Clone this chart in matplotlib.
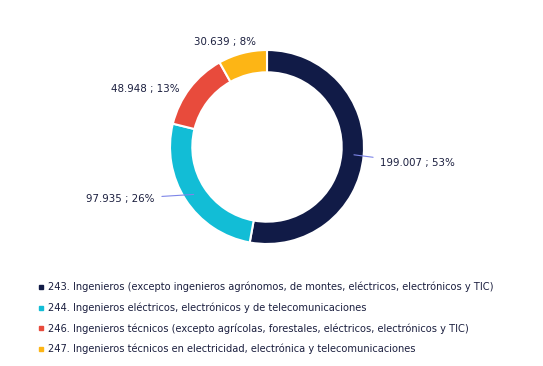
import numpy as np
import matplotlib.pyplot as plt
from matplotlib.lines import Line2D

categories = [
    "243. Ingenieros (excepto ingenieros agrónomos, de montes, eléctricos, electrónicos y TIC)",
    "244. Ingenieros eléctricos, electrónicos y de telecomunicaciones",
    "246. Ingenieros técnicos (excepto agrícolas, forestales, eléctricos, electrónicos y TIC)",
    "247. Ingenieros técnicos en electricidad, electrónica y telecomunicaciones",
]
values = [199007, 97935, 48948, 30639]
value_labels = ["199.007 ; 53%", "97.935 ; 26%", "48.948 ; 13%", "30.639 ; 8%"]
colors = ["#111B47", "#12BDD6", "#E84B3C", "#FDB515"]

text_color = "#1B1F3F"
fs = 7.35
fs_leg = 7.15

W, H = 543, 366
fig = plt.figure(figsize=(W / 100, H / 100), dpi=100)

# donut: centre (267,147) px, outer radius 97 px
cx, cy, R = 267, 147, 97
ax = fig.add_axes([(cx - R) / W, (H - cy - R) / H, 2 * R / W, 2 * R / H])
wedges, _ = ax.pie(values, colors=colors, startangle=90, counterclock=False,
                   radius=1, wedgeprops=dict(width=0.23, edgecolor="white", linewidth=1.5))
ax.set_xlim(-1, 1)
ax.set_ylim(-1, 1)
ax.set_aspect("equal")
ax.axis("off")

# label positions (pie units) and whether a leader line is drawn
label_pos = [(1.165, -0.165, "left", True),
             (-1.155, -0.536, "right", True),
             (-0.897, 0.598, "right", False),
             (-0.433, 1.082, "center", False)]

for w, lab, (tx, ty, ha, lead) in zip(wedges, value_labels, label_pos):
    ang = np.deg2rad((w.theta1 + w.theta2) / 2)
    px, py = 0.9 * np.cos(ang), 0.9 * np.sin(ang)
    if lead:
        ax.annotate(lab, xy=(px, py), xytext=(tx, ty), ha=ha, va="center",
                    fontsize=fs, color=text_color, annotation_clip=False,
                    arrowprops=dict(arrowstyle="-", color="#7E86E8", lw=0.8,
                                    shrinkA=3, shrinkB=0))
    else:
        ax.text(tx, ty, lab, ha=ha, va="center", fontsize=fs, color=text_color,
                clip_on=False)

handles = [Line2D([0], [0], marker="s", linestyle="", markersize=3.5,
                  markerfacecolor=c, markeredgecolor=c) for c in colors]
fig.legend(handles, categories, loc="upper left", bbox_to_anchor=(34 / W, 1 - 278 / H),
           frameon=False, fontsize=fs_leg, labelcolor=text_color, handlelength=0.6,
           handletextpad=0.45, labelspacing=1.02, borderaxespad=0)

fig.savefig("out.png", dpi=100)
